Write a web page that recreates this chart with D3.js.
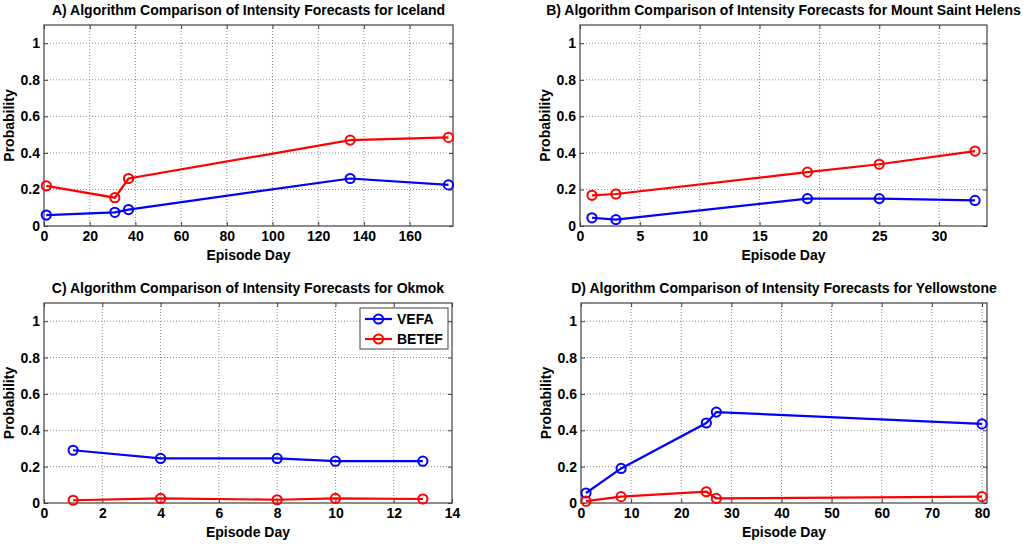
<!DOCTYPE html>
<html>
<head>
<meta charset="utf-8">
<script src="https://d3js.org/d3.v7.min.js"></script>
<style>
  body { margin: 0; background: #fff; }
  svg text { font-family: "Liberation Sans", Arial, sans-serif; font-weight: bold; fill: #000; }
</style>
</head>
<body>
<script>
// episode days and probabilities
var icelandDays = [1, 31, 37, 134, 177];
var icelandVefa = [0.06, 0.075, 0.09, 0.26, 0.225];
var icelandBetef = [0.22, 0.155, 0.26, 0.47, 0.485];

var helensDays = [1, 3, 19, 25, 33];
var helensVefa = [0.045, 0.035, 0.15, 0.15, 0.14];
var helensBetef = [0.168, 0.175, 0.295, 0.338, 0.41];

var okmokDays = [1, 4, 8, 10, 13];
var okmokVefa = [0.29, 0.245, 0.245, 0.23, 0.23];
var okmokBetef = [0.015, 0.025, 0.018, 0.025, 0.022];

var yellowDays = [1, 8, 25, 27, 80];
var yellowVefa = [0.055, 0.19, 0.44, 0.50, 0.435];
var yellowBetef = [0.01, 0.035, 0.062, 0.025, 0.035];

var yTicks = [0, 0.2, 0.4, 0.6, 0.8, 1];
var seriesNames = ["VEFA", "BETEF"];
var seriesColors = ["#0000ff", "#ff0000"];

var panels = [
  { title: "A) Algorithm Comparison of Intensity Forecasts for Iceland",
    days: icelandDays, vals: [icelandVefa, icelandBetef],
    xMax: 179, xTicks: [0, 20, 40, 60, 80, 100, 120, 140, 160],
    box: [44, 453, 25, 226] },
  { title: "B) Algorithm Comparison of Intensity Forecasts for Mount Saint Helens",
    days: helensDays, vals: [helensVefa, helensBetef],
    xMax: 34, xTicks: [0, 5, 10, 15, 20, 25, 30],
    box: [580, 987, 25, 226] },
  { title: "C) Algorithm Comparison of Intensity Forecasts for Okmok",
    days: okmokDays, vals: [okmokVefa, okmokBetef],
    xMax: 14, xTicks: [0, 2, 4, 6, 8, 10, 12, 14],
    box: [44, 452, 303, 503], legend: true },
  { title: "D) Algorithm Comparison of Intensity Forecasts for Yellowstone",
    days: yellowDays, vals: [yellowVefa, yellowBetef],
    xMax: 81, xTicks: [0, 10, 20, 30, 40, 50, 60, 70, 80],
    box: [581, 987, 303, 503] }
];

var svg = d3.select("body").append("svg")
  .attr("width", 1024).attr("height", 547);

var axisColor = "#404040";

panels.forEach(function(p) {
  var x0 = p.box[0], x1 = p.box[1], y0 = p.box[2], y1 = p.box[3];
  var x = d3.scaleLinear().domain([0, p.xMax]).range([x0, x1]);
  var y = d3.scaleLinear().domain([0, 1.1]).range([y1, y0]);
  var g = svg.append("g");

  // dotted grid
  g.selectAll(".gx").data(p.xTicks.filter(function(t) { return t > 0 && t < p.xMax; }))
    .enter().append("line")
    .attr("x1", function(d) { return x(d); }).attr("x2", function(d) { return x(d); })
    .attr("y1", y0).attr("y2", y1)
    .attr("stroke", "#8c8c8c").attr("stroke-width", 1).attr("stroke-dasharray", "1,2");
  g.selectAll(".gy").data(yTicks.filter(function(t) { return t > 0; }))
    .enter().append("line")
    .attr("x1", x0).attr("x2", x1)
    .attr("y1", function(d) { return y(d); }).attr("y2", function(d) { return y(d); })
    .attr("stroke", "#8c8c8c").attr("stroke-width", 1).attr("stroke-dasharray", "1,2");

  // axes with inward ticks, mirrored on top/right
  var ax = function(sel) {
    sel.selectAll("line").attr("stroke", axisColor);
    sel.selectAll("text").style("font-size", "14px").attr("fill", "#000");
  };
  g.append("g").attr("transform", "translate(0," + y1 + ")")
    .call(d3.axisBottom(x).tickValues(p.xTicks).tickSizeInner(-4).tickSizeOuter(0).tickPadding(5).tickFormat(d3.format("d")))
    .call(ax);
  g.append("g").attr("transform", "translate(0," + y0 + ")")
    .call(d3.axisTop(x).tickValues(p.xTicks).tickSizeInner(-4).tickSizeOuter(0).tickFormat(""))
    .call(ax);
  g.append("g").attr("transform", "translate(" + x0 + ",0)")
    .call(d3.axisLeft(y).tickValues(yTicks).tickSizeInner(-4).tickSizeOuter(0).tickPadding(4).tickFormat(d3.format("~g")))
    .call(ax);
  g.append("g").attr("transform", "translate(" + x1 + ",0)")
    .call(d3.axisRight(y).tickValues(yTicks).tickSizeInner(-4).tickSizeOuter(0).tickFormat(""))
    .call(ax);
  g.selectAll(".domain").remove();
  g.append("rect").attr("x", x0).attr("y", y0).attr("width", x1 - x0).attr("height", y1 - y0)
    .attr("fill", "none").attr("stroke", axisColor).attr("stroke-width", 1.2);

  // series
  p.vals.forEach(function(vals, i) {
    var pts = p.days.map(function(d, k) { return [d, vals[k]]; });
    g.append("path").datum(pts)
      .attr("d", d3.line().x(function(d) { return x(d[0]); }).y(function(d) { return y(d[1]); }))
      .attr("fill", "none").attr("stroke", seriesColors[i]).attr("stroke-width", 2.2);
    g.selectAll(".m" + i).data(pts).enter().append("circle")
      .attr("cx", function(d) { return x(d[0]); }).attr("cy", function(d) { return y(d[1]); })
      .attr("r", 4.6).attr("fill", "none").attr("stroke", seriesColors[i]).attr("stroke-width", 2);
  });

  // labels
  g.append("text").attr("x", (x0 + x1) / 2).attr("y", y0 - 10)
    .attr("text-anchor", "middle").style("font-size", "14px").text(p.title);
  g.append("text").attr("x", (x0 + x1) / 2).attr("y", y1 + 34)
    .attr("text-anchor", "middle").style("font-size", "14px").text("Episode Day");
  g.append("text").attr("transform", "translate(" + (x0 - 30) + "," + ((y0 + y1) / 2) + ") rotate(-90)")
    .attr("text-anchor", "middle").style("font-size", "14px").text("Probability");

  if (p.legend) {
    var lg = g.append("g").attr("transform", "translate(" + (x1 - 92) + "," + (y0 + 5) + ")");
    lg.append("rect").attr("width", 88).attr("height", 41)
      .attr("fill", "#fff").attr("stroke", axisColor).attr("stroke-width", 1);
    seriesNames.forEach(function(n, i) {
      var yy = 11 + i * 20;
      lg.append("line").attr("x1", 5).attr("x2", 32).attr("y1", yy).attr("y2", yy)
        .attr("stroke", seriesColors[i]).attr("stroke-width", 2.2);
      lg.append("circle").attr("cx", 18.5).attr("cy", yy).attr("r", 4.6)
        .attr("fill", "none").attr("stroke", seriesColors[i]).attr("stroke-width", 2);
      lg.append("text").attr("x", 37).attr("y", yy + 5).style("font-size", "14px").text(n);
    });
  }
});
</script>
</body>
</html>
